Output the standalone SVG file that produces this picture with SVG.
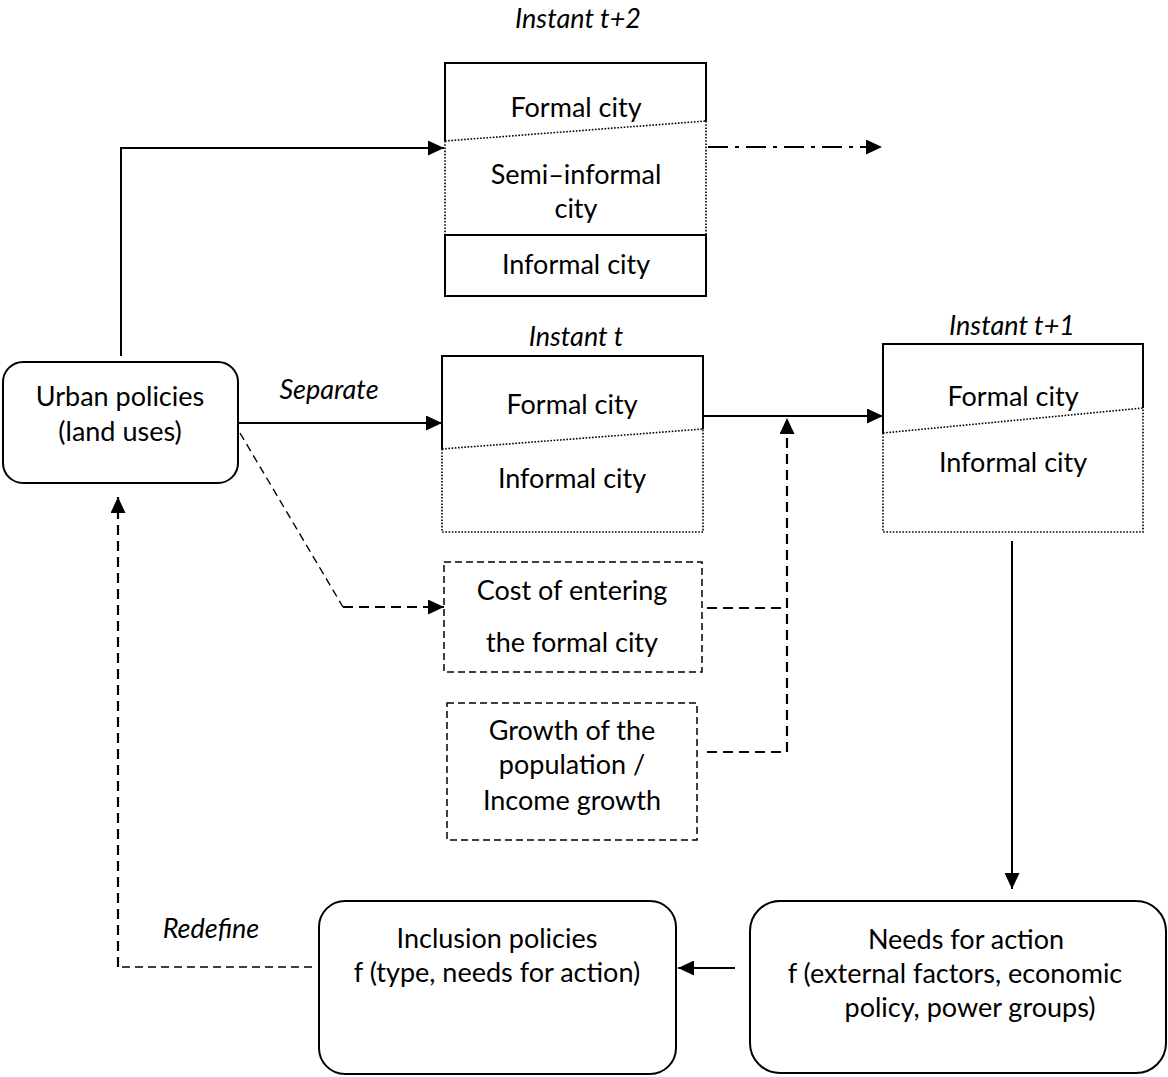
<svg xmlns="http://www.w3.org/2000/svg" width="1168" height="1077" viewBox="0 0 1168 1077">
<style>
  text { font-family: Lato, "Liberation Sans", sans-serif; font-size: 27px; fill: #000; text-anchor: middle; }
  .it { font-style: italic; }
  .solid { fill: none; stroke: #000; stroke-width: 2; }
  .dot { fill: none; stroke: #000; stroke-width: 1.6; stroke-dasharray: 1.6 1.6; }
  .dbox { fill: none; stroke: #000; stroke-width: 1.5; stroke-dasharray: 7 4; }
  .conn { fill: none; stroke: #000; stroke-width: 2; }
  .dash { fill: none; stroke: #000; stroke-width: 2.2; stroke-dasharray: 10 6; }
  .dashthin { fill: none; stroke: #000; stroke-width: 1.4; stroke-dasharray: 8 5; }
  .dashdot { fill: none; stroke: #000; stroke-width: 2; stroke-dasharray: 20 7 4 7; }
</style>
<defs>
  <marker id="arr" markerUnits="userSpaceOnUse" markerWidth="17" markerHeight="15" refX="16" refY="7.5" orient="auto">
    <path d="M0,0 L16,7.5 L0,15 z" fill="#000"/>
  </marker>
</defs>

<text class="it" x="578" y="28">Instant t+2</text>
<text class="it" x="576" y="346">Instant t</text>
<text class="it" x="1012" y="335">Instant t+1</text>
<text class="it" x="329" y="399">Separate</text>
<text class="it" x="211" y="938">Redefine</text>

<g id="city-t2">
  <path class="solid" d="M445,141 V63 H706 V121"/>
  <path class="dot" d="M445,141 L706,121 M445,141 V235 M706,121 V235"/>
  <rect class="solid" x="445" y="235" width="261" height="61"/>
  <text x="576" y="117">Formal city</text>
  <text x="576" y="184">Semi–informal</text>
  <text x="576" y="218">city</text>
  <text x="576" y="274">Informal city</text>
</g>

<g id="urban-policies">
  <rect class="solid" x="3" y="362" width="235" height="121" rx="20"/>
  <text x="120" y="406">Urban policies</text>
  <text x="120" y="441">(land uses)</text>
</g>

<g id="city-t">
  <path class="solid" d="M442,449 V356 H703 V429"/>
  <path class="dot" d="M442,449 L703,429 M442,449 V532 H703 V429"/>
  <text x="572" y="414">Formal city</text>
  <text x="572" y="488">Informal city</text>
</g>

<g id="city-t1">
  <path class="solid" d="M883,433 V344 H1143 V408"/>
  <path class="dot" d="M883,433 L1143,408 M883,433 V532 H1143 V408"/>
  <text x="1013" y="406">Formal city</text>
  <text x="1013" y="472">Informal city</text>
</g>

<g id="cost">
  <rect class="dbox" x="444" y="562" width="258" height="110"/>
  <text x="572" y="600">Cost of entering</text>
  <text x="572" y="652">the formal city</text>
</g>

<g id="growth">
  <rect class="dbox" x="447" y="703" width="250" height="137"/>
  <text x="572" y="740">Growth of the</text>
  <text x="572" y="774">population /</text>
  <text x="572" y="810">Income growth</text>
</g>

<g id="inclusion">
  <rect class="solid" x="319" y="901" width="357" height="173" rx="26"/>
  <text x="497" y="948">Inclusion policies</text>
  <text x="497" y="982">f (type, needs for action)</text>
</g>

<g id="needs">
  <rect class="solid" x="750" y="901" width="416" height="172" rx="30"/>
  <text x="966" y="949">Needs for action</text>
  <text x="955" y="983">f (external factors, economic</text>
  <text x="970" y="1017">policy, power groups)</text>
</g>

<g id="connectors">
  <path class="conn" d="M121,356 V148 H444" marker-end="url(#arr)"/>
  <path class="dashdot" d="M708,147 H882" marker-end="url(#arr)"/>
  <path class="conn" d="M238,423 H442" marker-end="url(#arr)"/>
  <path class="conn" d="M703,416 H883" marker-end="url(#arr)"/>
  <path class="dashthin" d="M240,433 L343,607"/>
  <path class="dash" d="M343,607 H444" marker-end="url(#arr)"/>
  <path class="dash" d="M707,608 H787"/>
  <path class="dash" d="M707,752 H787 V418" marker-end="url(#arr)"/>
  <path class="conn" d="M1012,541 V889" marker-end="url(#arr)"/>
  <path class="conn" d="M735,968 H678" marker-end="url(#arr)"/>
  <path class="dashthin" d="M312,967 H118"/>
  <path class="dash" d="M118,967 V497" marker-end="url(#arr)"/>
</g>
</svg>
